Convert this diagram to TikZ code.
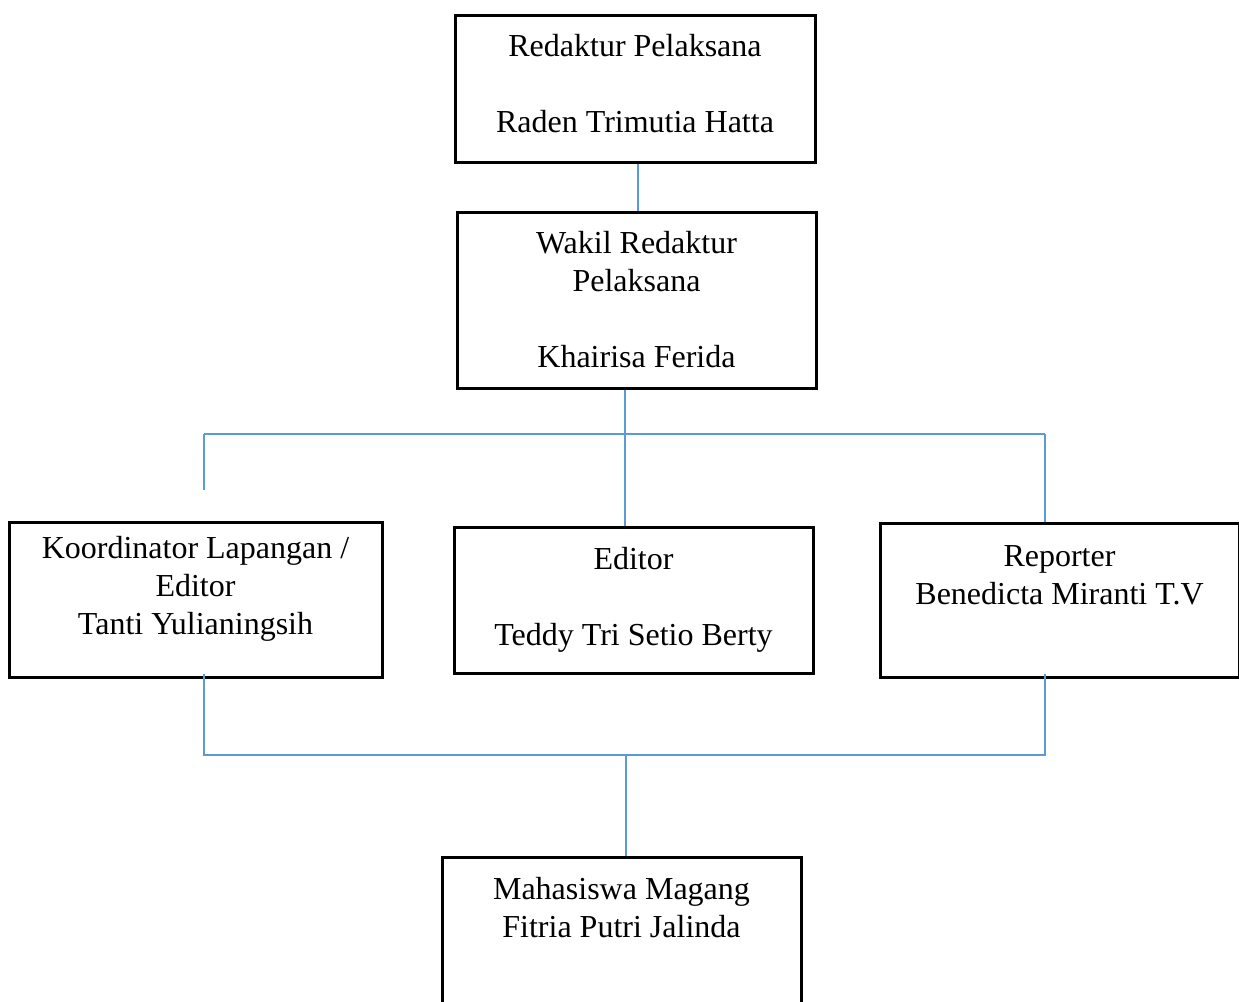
\documentclass[tikz,border=0pt]{standalone}
\usepackage{fontspec}
\setmainfont{Liberation Serif}
\usetikzlibrary{positioning}
\definecolor{linkblue}{RGB}{91,155,213}

\begin{document}
\begin{tikzpicture}[x=1pt,y=-1pt,
				every node/.style={font=\fontsize{32}{38}\selectfont},
				box/.style={rectangle,draw,line width=3pt,align=center,inner sep=0pt},
				link/.style={draw=linkblue,line width=1.5pt}
				]
				\useasboundingbox (0,0) rectangle (1239,1001);
				\clip (0,0) rectangle (1239,1001);
				\node[box,minimum width=360,minimum height=147](redpel) at (635,88.5){Redaktur Pelaksana\\ \mbox{}\\Raden Trimutia Hatta\\[-27pt]\mbox{}};
				\node[box,minimum width=359,minimum height=176](wakil) at (636.5,300){Wakil Redaktur\\Pelaksana\\ \mbox{}\\Khairisa Ferida};
				\node[box,minimum width=373,minimum height=155](korlap) at (195.5,599.5){Koordinator Lapangan /\\Editor\\Tanti Yulianingsih\\[-10pt]\mbox{}};
				\node[box,minimum width=359,minimum height=146](editor) at (633.5,600){Editor\\ \mbox{}\\Teddy Tri Setio Berty};
				\node[box,minimum width=359,minimum height=154](reporter) at (1059.5,600){Reporter\\Benedicta Miranti T.V\\[12pt] \mbox{}};
				\node[box,minimum width=359,minimum height=176](magang) at (621.5,945){Mahasiswa Magang\\Fitria Putri Jalinda\\ \mbox{}\\ \mbox{}};
				\coordinate (busup) at (625,434);
				\coordinate (busL) at (204,434);
				\coordinate (busR) at (1045,434);
				\coordinate (korlapin) at (204,490);
				\coordinate (lowL) at (204,755);
				\coordinate (lowR) at (1045,755);
				\coordinate (lowM) at (626,755);
				\draw[link] (redpel.south -| 638,0) -- (wakil.north -| 638,0);
				\draw[link] (wakil.south -| busup) -- (busup) -- (editor.north -| busup);
				\draw[link] (busL) -- (busR);
				\draw[link] (busL) -- (korlapin);
				\draw[link] (busR) -- (reporter.north -| busR);
				\draw[link] ([yshift=5]korlap.south -| lowL) -- (lowL) -- (lowR) -- ([yshift=5]reporter.south -| lowR);
				\draw[link] (lowM) -- (magang.north -| lowM);
\end{tikzpicture}
\end{document}
